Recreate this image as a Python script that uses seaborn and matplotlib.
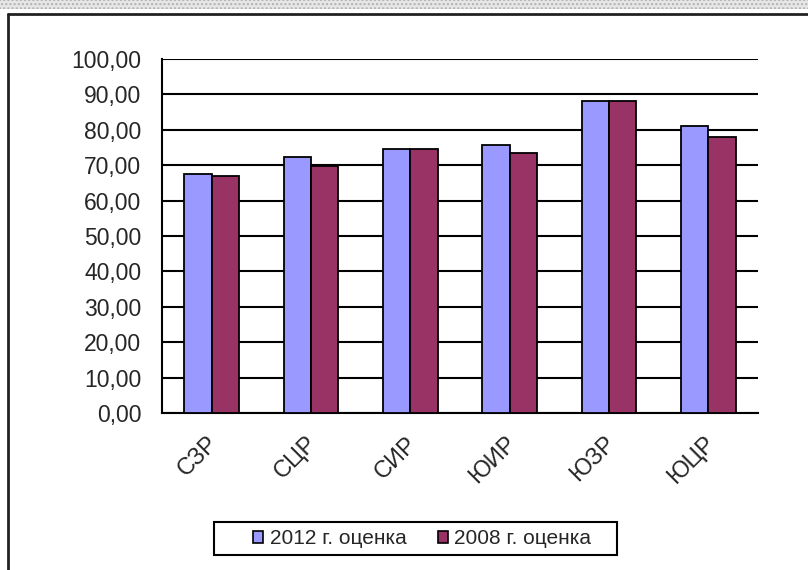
import numpy as np
import pandas as pd
import seaborn as sns
import matplotlib.pyplot as plt
import matplotlib.transforms as mtransforms
from matplotlib.patches import Rectangle
from matplotlib.lines import Line2D

# данные графика
regions = ["СЗР", "СЦР", "СИР", "ЮИР", "ЮЗР", "ЮЦР"]
series_names = ["2012 г. оценка", "2008 г. оценка"]
values_2012 = [67.6, 72.3, 74.7, 75.8, 88.0, 81.0]
values_2008 = [67.0, 69.8, 74.7, 73.5, 88.0, 78.1]
y_ticks = [0, 10, 20, 30, 40, 50, 60, 70, 80, 90, 100]
y_labels = ["0,00", "10,00", "20,00", "30,00", "40,00", "50,00",
            "60,00", "70,00", "80,00", "90,00", "100,00"]
colors = ["#9999FF", "#993366"]

df = pd.DataFrame({
    "region": regions * 2,
    "series": [series_names[0]] * 6 + [series_names[1]] * 6,
    "value": values_2012 + values_2008,
})

sns.set_style("white")
plt.rcParams['font.family'] = ['Liberation Sans', 'DejaVu Sans']

fig = plt.figure(figsize=(8.08, 5.7), dpi=100)
ax = fig.add_axes([162/808, 1-413/570, (758-162)/808, (413-59)/570])

sns.barplot(data=df, x="region", y="value", hue="series", order=regions,
            hue_order=series_names, palette=colors, width=0.55,
            edgecolor="black", linewidth=1.3, saturation=1, ax=ax, zorder=3)

ax.set_ylim(0, 100)
ax.set_xlim(-0.5, 5.5)
ax.set_yticks(y_ticks)
ax.set_yticklabels(y_labels, fontsize=16.5)
ax.yaxis.grid(True, color="black", linewidth=1.5, zorder=0)
ax.set_axisbelow(True)
ax.set_xlabel("")
ax.set_ylabel("")

# деления на границах категорий
ax.set_xticks(np.arange(len(regions)))
ax.set_xticks(np.arange(-0.5, len(regions), 1), minor=True)
ax.tick_params(axis="x", which="major", length=0, pad=14)
ax.tick_params(axis="x", which="minor", length=7, width=1.5, direction="out", color="black")
ax.tick_params(axis="y", length=6, width=1.5, direction="out", color="black", pad=9)
ax.set_xticklabels(regions, rotation=45, ha="right", rotation_mode="anchor", fontsize=17)
shift = mtransforms.ScaledTranslation(-5/100, 0, fig.dpi_scale_trans)
for lbl in ax.get_xticklabels():
    lbl.set_transform(lbl.get_transform() + shift)

for side in ["top", "right"]:
    ax.spines[side].set_visible(False)
for side in ["left", "bottom"]:
    ax.spines[side].set_color("black")
    ax.spines[side].set_linewidth(1.5)

# легенда: рамка отдельно, чтобы отступы совпали
ax.get_legend().remove()
fig.add_artist(Rectangle((214/808, 1-555/570), (617-214)/808, (555-522)/570,
                         transform=fig.transFigure, facecolor="white",
                         edgecolor="black", linewidth=1.5))
handles = [Rectangle((0, 0), 1, 1, facecolor=c, edgecolor="black", linewidth=1.2) for c in colors]
leg = fig.legend(handles, series_names, loc="center", bbox_to_anchor=(422/808, 1-538.5/570),
                 ncol=2, fontsize=15, frameon=False, handlelength=0.5,
                 handleheight=0.5, handletextpad=0.3, columnspacing=1.5, borderpad=0.2)

# внешняя рамка и полоса сверху
fig.add_artist(Rectangle((0, 1-9/570), 1, 9/570, transform=fig.transFigure,
                         facecolor="#e6e6e6", edgecolor="#b0b0b0", hatch="....", linewidth=0))
fig.add_artist(Line2D([8/808, 8/808], [0, 1-14/570], transform=fig.transFigure,
                      color="#222222", linewidth=2))
fig.add_artist(Line2D([8/808, 1], [1-14/570, 1-14/570], transform=fig.transFigure,
                      color="#222222", linewidth=2))

fig.savefig("out.png", dpi=100)
